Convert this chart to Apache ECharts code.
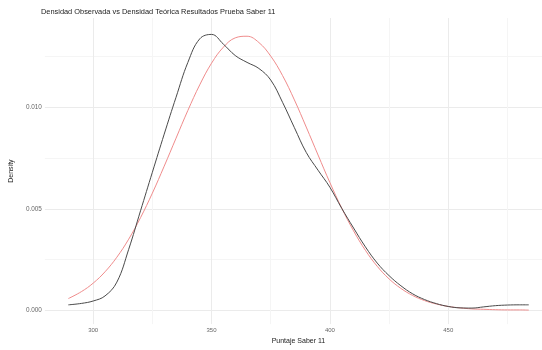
<!DOCTYPE html>
<html>
<head>
<meta charset="utf-8">
<script src="https://cdn.jsdelivr.net/npm/echarts@6/dist/echarts.min.js"></script>
<style>
  html, body { margin: 0; padding: 0; background: #ffffff; }
  #chart { width: 542px; height: 350px; }
</style>
</head>
<body>
<div id="chart"></div>
<script>
// Puntaje Saber 11: grid of scores where both densities are evaluated
const puntaje = [289.5, 295, 300, 305, 310, 315, 320, 325, 330, 335, 340, 345, 350, 355, 360, 365,
  370, 375, 380, 385, 390, 395, 400, 405, 410, 415, 420, 425, 430, 435, 440, 445, 450, 455, 460,
  465, 470, 475, 480, 484];

// Observed (kernel) density of the scores
const densidadObservada = [0.00026, 0.00033, 0.00045, 0.00070, 0.00138, 0.00300, 0.00490, 0.00680,
  0.00868, 0.01050, 0.01222, 0.01338, 0.01360, 0.01312, 0.01256, 0.01222, 0.01192, 0.01135, 0.01025,
  0.00900, 0.00778, 0.00690, 0.00606, 0.00502, 0.00405, 0.00312, 0.00232, 0.00170, 0.00120, 0.00080,
  0.00052, 0.00032, 0.00018, 0.00011, 0.00010, 0.00016, 0.00022, 0.00025, 0.00026, 0.00026];

// Theoretical normal density of the scores
const densidadTeorica = [0.00057, 0.00091, 0.00133, 0.00189, 0.00261, 0.00350, 0.00456, 0.00577,
  0.00710, 0.00848, 0.00985, 0.01111, 0.01218, 0.01297, 0.01343, 0.01351, 0.01320, 0.01253, 0.01157,
  0.01037, 0.00903, 0.00765, 0.00629, 0.00503, 0.00391, 0.00295, 0.00216, 0.00154, 0.00107, 0.00072,
  0.00047, 0.00030, 0.00018, 0.00011, 0.00006, 0.00004, 0.00002, 0.00001, 0.00001, 0.00000];

// Axis ticks
const xMajor = [300, 350, 400, 450];
const xMinor = [325, 375, 425, 475];
const yMajor = [0, 0.005, 0.010];
const yMinor = [0.0025, 0.0075, 0.0125];

// The panel runs on past the right edge of the canvas
const X_MIN = 279.6, X_MAX = 489.6;
const Y_MIN = -0.00069, Y_MAX = 0.01441;

const FONT = 'Liberation Sans, Arial, sans-serif';

function pairs(xs, ys) { return xs.map((x, i) => [x, ys[i]]); }

function gridAxis(extra) {
  return Object.assign({
    type: 'value',
    axisLine: { show: false },
    axisTick: { show: false },
    axisLabel: { show: false },
    splitLine: { show: true, lineStyle: { color: '#ebebeb', width: 1 } }
  }, extra);
}

const chart = echarts.init(document.getElementById('chart'), null, { renderer: 'canvas' });

chart.setOption({
  animation: false,
  backgroundColor: '#ffffff',
  title: {
    text: 'Densidad Observada vs Densidad Teórica Resultados Prueba Saber 11',
    left: 41, top: 8, padding: 0,
    textStyle: { fontFamily: FONT, fontSize: 7.4, fontWeight: 'normal', color: '#222222' }
  },
  grid: { left: 42, right: 0, top: 18, bottom: 24, containLabel: false },
  xAxis: [
    gridAxis({
      min: X_MIN, max: X_MAX,
      name: 'Puntaje Saber 11', nameLocation: 'middle', nameGap: 11,
      nameTextStyle: { fontFamily: FONT, fontSize: 7, color: '#222222', padding: [0, 0, 0, 10] },
      axisTick: { show: false, customValues: xMajor },
      axisLabel: { show: true, customValues: xMajor, margin: 3, fontFamily: FONT, fontSize: 6, color: '#666666',
        formatter: v => String(Math.round(v)) },
      splitLine: { show: true, lineStyle: { color: '#ebebeb', width: 1 } }
    }),
    gridAxis({
      min: X_MIN, max: X_MAX,
      axisTick: { show: false, customValues: xMinor },
      splitLine: { show: true, lineStyle: { color: '#f5f5f5', width: 1 } }
    })
  ],
  yAxis: [
    gridAxis({
      min: Y_MIN, max: Y_MAX,
      name: 'Density', nameLocation: 'middle', nameGap: 22, nameRotate: 90,
      nameTextStyle: { fontFamily: FONT, fontSize: 7, color: '#222222' },
      axisTick: { show: false, customValues: yMajor },
      axisLabel: { show: true, customValues: yMajor, margin: 3, fontFamily: FONT, fontSize: 6.4, color: '#666666',
        formatter: v => (Math.abs(v) < 1e-9 ? 0 : v).toFixed(3) },
      splitLine: { show: true, lineStyle: { color: '#ebebeb', width: 1 } }
    }),
    gridAxis({
      min: Y_MIN, max: Y_MAX,
      axisTick: { show: false, customValues: yMinor },
      splitLine: { show: true, lineStyle: { color: '#f5f5f5', width: 1 } }
    })
  ],
  series: [
    {
      name: 'Densidad Teórica', type: 'line', xAxisIndex: 0, yAxisIndex: 0,
      data: pairs(puntaje, densidadTeorica),
      smooth: 0.4, showSymbol: false, silent: true,
      lineStyle: { color: '#f08c8c', width: 1 }
    },
    {
      name: 'Densidad Observada', type: 'line', xAxisIndex: 0, yAxisIndex: 0,
      data: pairs(puntaje, densidadObservada),
      smooth: 0.4, showSymbol: false, silent: true,
      lineStyle: { color: '#4a4a4a', width: 1 }
    }
  ]
});
</script>
</body>
</html>
